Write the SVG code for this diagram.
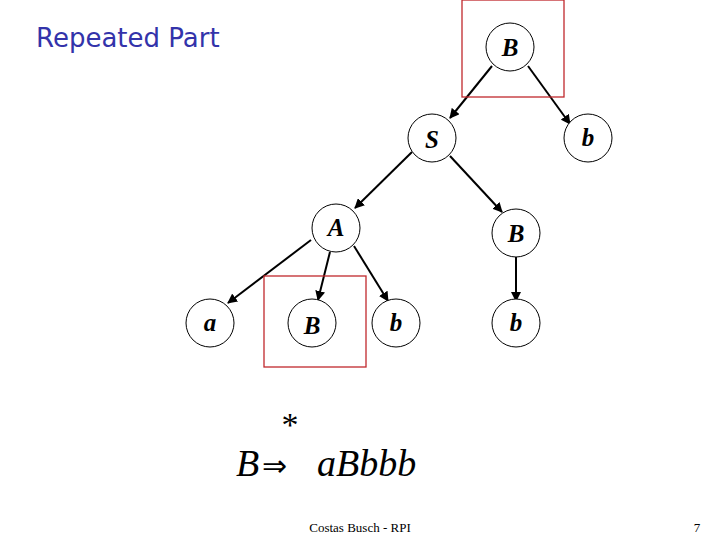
<svg xmlns="http://www.w3.org/2000/svg" width="720" height="540" viewBox="0 0 720 540">
<style>
.n{fill:#fff;stroke:#000;stroke-width:1}
.l{font-family:"Liberation Serif",serif;font-style:italic;font-weight:bold;font-size:25px;text-anchor:middle}
.e{stroke:#000;stroke-width:2;marker-end:url(#ah)}
.box{fill:none;stroke:#c0282d;stroke-width:1.3}
</style>
<defs><marker id="ah" markerWidth="10" markerHeight="10" refX="9" refY="5" orient="auto" markerUnits="userSpaceOnUse"><path d="M0,0 L10,5 L0,10 z"/></marker></defs>
<rect width="720" height="540" fill="#fff"/>
<text x="36" y="47" font-family="DejaVu Sans, sans-serif" font-size="26" fill="#3333aa">Repeated Part</text>
<g id="connectors">
<line class="e" x1="492" y1="66" x2="450" y2="118"/>
<line class="e" x1="528" y1="66" x2="570" y2="124"/>
<line class="e" x1="412" y1="152" x2="355" y2="208"/>
<line class="e" x1="450" y1="156" x2="502" y2="212"/>
<line class="e" x1="311" y1="240" x2="228" y2="303"/>
<line class="e" x1="330" y1="252" x2="318" y2="300"/>
<line class="e" x1="354" y1="246" x2="388" y2="301"/>
<line class="e" x1="516" y1="257" x2="516" y2="301"/>
</g>
<g id="n1"><circle class="n" cx="510" cy="47" r="24"/><text class="l" x="510" y="56">B</text></g>
<g id="n2"><circle class="n" cx="432" cy="138" r="24"/><text class="l" x="432" y="148">S</text></g>
<g id="n3"><circle class="n" cx="588" cy="138" r="24"/><text class="l" x="588" y="146">b</text></g>
<g id="n4"><circle class="n" cx="336" cy="228" r="24"/><text class="l" x="336" y="236">A</text></g>
<g id="n5"><circle class="n" cx="516" cy="233" r="24"/><text class="l" x="516" y="242">B</text></g>
<g id="n6"><circle class="n" cx="210" cy="323" r="24"/><text class="l" x="210" y="331">a</text></g>
<g id="n7"><circle class="n" cx="312" cy="323" r="24"/><text class="l" x="312" y="334">B</text></g>
<g id="n8"><circle class="n" cx="396" cy="323" r="24"/><text class="l" x="396" y="331">b</text></g>
<g id="n9"><circle class="n" cx="516" cy="323" r="24"/><text class="l" x="516" y="331">b</text></g>
<rect class="box" x="462" y="0" width="102" height="97"/>
<rect class="box" x="264" y="276" width="102" height="91"/>
<text x="290" y="436" font-family="Liberation Serif, serif" font-size="34" text-anchor="middle">*</text>
<text x="236" y="476" font-family="Liberation Serif, serif" font-style="italic" font-size="38">B</text>
<text x="262" y="476" font-family="DejaVu Sans, sans-serif" font-size="30">⇒</text>
<text x="317" y="476" font-family="Liberation Serif, serif" font-style="italic" font-size="38">aBbbb</text>
<text x="360" y="532" font-family="Liberation Serif, serif" font-size="13" text-anchor="middle">Costas Busch - RPI</text>
<text x="697" y="532" font-family="Liberation Serif, serif" font-size="13" text-anchor="middle">7</text>
</svg>
